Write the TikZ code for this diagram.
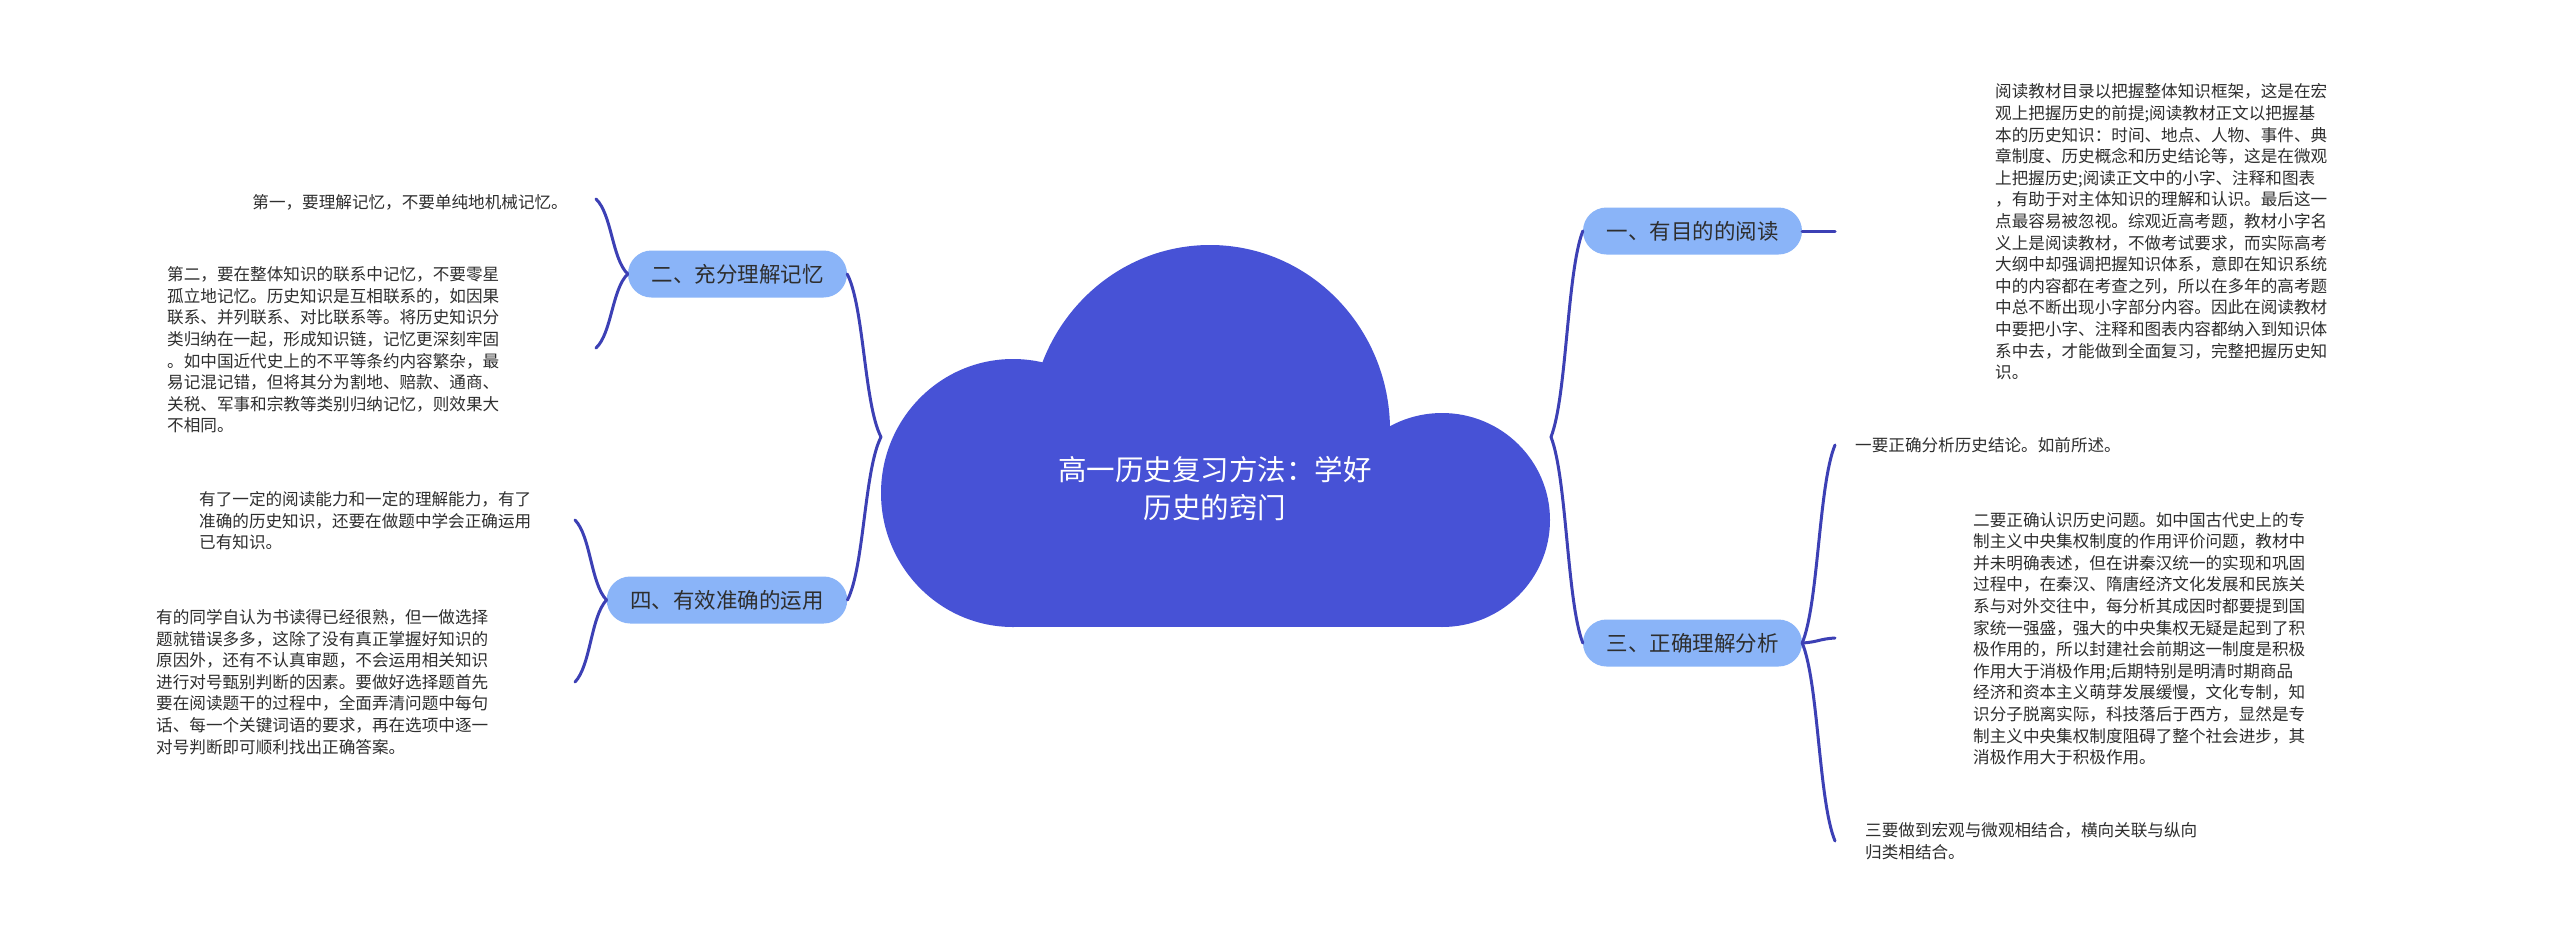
\documentclass[tikz,border=0pt]{standalone}
\usepackage{fontspec}
\newfontfamily\cjk{Noto Sans CJK SC}
\usetikzlibrary{calc}
\definecolor{cloudc}{HTML}{4752D6}
\definecolor{nodec}{HTML}{8AB4F8}
\definecolor{linec}{HTML}{3C40B5}
\definecolor{txtc}{HTML}{2E2E2E}
\tikzset{
  conn/.style={draw=linec, line width=3pt, line cap=round},
  topic/.style={fill=nodec, rounded corners=23.5pt, minimum height=47pt, inner xsep=23.5pt, inner ysep=0pt, text=txtc, font=\cjk\fontsize{21.5}{26}\selectfont},
  leaf/.style={align=left, inner sep=0pt, text=txtc, font=\cjk\fontsize{16.6}{21.6}\selectfont},
  roottxt/.style={align=center, inner sep=0pt, text=white, font=\cjk\fontsize{28.5}{38}\selectfont}
}
\newcommand{\brc}[2]{\draw[conn] let \p1=(#1), \p2=(#2) in (\p1) .. controls ({0.5*\x1+0.5*\x2},{0.8*\y1+0.2*\y2}) and ({0.5*\x1+0.5*\x2},{0.2*\y1+0.8*\y2}) .. (\p2);}
\begin{document}
\begin{tikzpicture}[x=1pt,y=-1pt]
\useasboundingbox[fill=white] (0,0) rectangle (2560,943);
% cloud
\fill[cloudc] (1013,493) ellipse [x radius=132pt, y radius=134pt];
\fill[cloudc] (1210,430) ellipse [x radius=180pt, y radius=185pt];
\fill[cloudc] (1442,520) ellipse [x radius=108pt, y radius=107pt];
\fill[cloudc] (1013,440) rectangle (1442,627);
\node[roottxt] (root) at (1215,489) {高一历史复习方法：学好\\历史的窍门};
\coordinate (cl) at (881,437);
\coordinate (cr) at (1551,437);
% topics
\node[topic] (n1) at (1692.5,231) {一、有目的的阅读};
\node[topic] (n3) at (1692.5,643) {三、正确理解分析};
\node[topic] (n2) at (737.5,274) {二、充分理解记忆};
\node[topic] (n4) at (727,600) {四、有效准确的运用};
% leaves
\node[leaf, anchor=west] (t1) at (1995,232) {阅读教材目录以把握整体知识框架，这是在宏\\观上把握历史的前提;阅读教材正文以把握基\\本的历史知识：时间、地点、人物、事件、典\\章制度、历史概念和历史结论等，这是在微观\\上把握历史;阅读正文中的小字、注释和图表\\，有助于对主体知识的理解和认识。最后这一\\点最容易被忽视。综观近高考题，教材小字名\\义上是阅读教材，不做考试要求，而实际高考\\大纲中却强调把握知识体系，意即在知识系统\\中的内容都在考查之列，所以在多年的高考题\\中总不断出现小字部分内容。因此在阅读教材\\中要把小字、注释和图表内容都纳入到知识体\\系中去，才能做到全面复习，完整把握历史知\\识。};
\node[leaf, anchor=west] (t31) at (1855,445) {一要正确分析历史结论。如前所述。};
\node[leaf, anchor=west] (t32) at (1973,638.5) {二要正确认识历史问题。如中国古代史上的专\\制主义中央集权制度的作用评价问题，教材中\\并未明确表述，但在讲秦汉统一的实现和巩固\\过程中，在秦汉、隋唐经济文化发展和民族关\\系与对外交往中，每分析其成因时都要提到国\\家统一强盛，强大的中央集权无疑是起到了积\\极作用的，所以封建社会前期这一制度是积极\\作用大于消极作用;后期特别是明清时期商品\\经济和资本主义萌芽发展缓慢，文化专制，知\\识分子脱离实际，科技落后于西方，显然是专\\制主义中央集权制度阻碍了整个社会进步，其\\消极作用大于积极作用。};
\node[leaf, anchor=west] (t33) at (1865,841) {三要做到宏观与微观相结合，横向关联与纵向\\归类相结合。};
\node[leaf, anchor=east] (t21) at (568,202) {第一，要理解记忆，不要单纯地机械记忆。};
\node[leaf, anchor=west] (t22) at (167,350) {第二，要在整体知识的联系中记忆，不要零星\\孤立地记忆。历史知识是互相联系的，如因果\\联系、并列联系、对比联系等。将历史知识分\\类归纳在一起，形成知识链，记忆更深刻牢固\\。如中国近代史上的不平等条约内容繁杂，最\\易记混记错，但将其分为割地、赔款、通商、\\关税、军事和宗教等类别归纳记忆，则效果大\\不相同。};
\node[leaf, anchor=west] (t41) at (199,521) {有了一定的阅读能力和一定的理解能力，有了\\准确的历史知识，还要在做题中学会正确运用\\已有知识。};
\node[leaf, anchor=west] (t42) at (156,682) {有的同学自认为书读得已经很熟，但一做选择\\题就错误多多，这除了没有真正掌握好知识的\\原因外，还有不认真审题，不会运用相关知识\\进行对号甄别判断的因素。要做好选择题首先\\要在阅读题干的过程中，全面弄清问题中每句\\话、每一个关键词语的要求，再在选项中逐一\\对号判断即可顺利找出正确答案。};
% connector ends
\coordinate (e1) at (1835,231);
\coordinate (e31) at (1835,445);
\coordinate (e32) at (1835,638);
\coordinate (e33) at (1835,841);
\coordinate (e21) at (596,199);
\coordinate (e22) at (596,348);
\coordinate (e41) at (575,520);
\coordinate (e42) at (575,682);
% connectors
\draw[conn] (n1.east) -- (e1);
\brc{cl}{n2.east}
\brc{cl}{n4.east}
\brc{cr}{n1.west}
\brc{cr}{n3.west}
\brc{n2.west}{e21}
\brc{n2.west}{e22}
\brc{n4.west}{e41}
\brc{n4.west}{e42}
\brc{n3.east}{e31}
\brc{n3.east}{e32}
\brc{n3.east}{e33}
\end{tikzpicture}
\end{document}
